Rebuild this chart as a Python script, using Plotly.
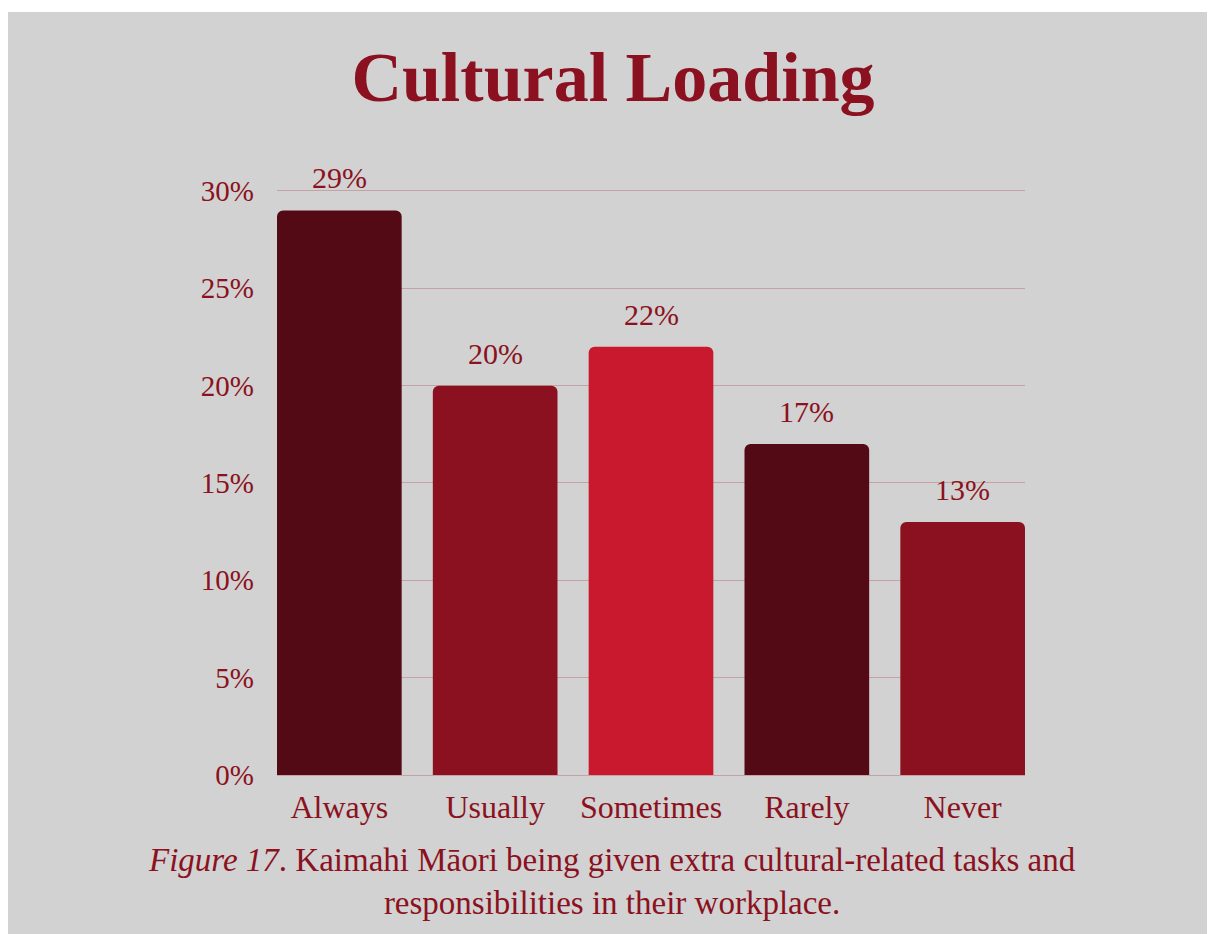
import plotly.graph_objects as go

categories = ["Always", "Usually", "Sometimes", "Rarely", "Never"]
values = [29, 20, 22, 17, 13]
bar_colors = ["#530a15", "#8b1120", "#c8192e", "#530a15", "#8b1120"]
tick_vals = [0, 5, 10, 15, 20, 25, 30]
tick_text = ["0%", "5%", "10%", "15%", "20%", "25%", "30%"]

TEXT = "#8b1120"
FONT = "Liberation Serif"
W, H = 1207, 926
YMAX = 30.1
L, R, B = 269, 190, 159
ph = 584 * YMAX / 30
T = H - B - ph
pw = W - L - R

fig = go.Figure()
fig.add_trace(go.Bar(
    x=categories, y=values, marker=dict(color=bar_colors, line=dict(width=0)),
    hoverinfo="skip", cliponaxis=False,
))

for c, v in zip(categories, values):
    fig.add_annotation(x=c, y=v, text=f"{v}%", showarrow=False, yanchor="bottom",
                       yshift=14, font=dict(family=FONT, size=30, color=TEXT))

# gray panel with thin white strip at top
fig.add_shape(type="rect", xref="paper", yref="paper",
              x0=-1, x1=1.5, y0=-0.5, y1=(H - B - 4) / ph,
              fillcolor="#d2d2d2", line=dict(width=0), layer="below")

fig.add_annotation(xref="paper", yref="paper", x=(604 - L) / pw, y=(H - B - 873) / ph,
                   text="<i>Figure 17</i>. Kaimahi Māori being given extra cultural-related tasks and<br>responsibilities in their workplace.",
                   showarrow=False, xanchor="center", yanchor="middle", align="center",
                   font=dict(family=FONT, size=33, color=TEXT))

fig.update_layout(
    width=W, height=H,
    margin=dict(l=L, r=R, t=T, b=B, autoexpand=False),
    paper_bgcolor="white", plot_bgcolor="rgba(0,0,0,0)",
    bargap=0.2, barcornerradius=6, showlegend=False,
    title=dict(text="<b>Cultural Loading</b>", x=605 / W, xanchor="center",
               y=1 - 68 / H, yanchor="middle", yref="container",
               font=dict(family=FONT, size=70, color=TEXT)),
    font=dict(family=FONT, color=TEXT),
)
fig.update_xaxes(range=[-0.4, 4.4], showgrid=False, showline=False, ticks="",
                 tickfont=dict(family=FONT, size=32, color=TEXT), ticklabelstandoff=10)
fig.update_yaxes(range=[0, YMAX], tickvals=tick_vals, ticktext=tick_text, showgrid=True,
                 gridcolor="#c6a2a7", gridwidth=1, zeroline=True, zerolinecolor="#c6a2a7",
                 zerolinewidth=1, showline=False, ticks="",
                 tickfont=dict(family=FONT, size=29, color=TEXT), ticklabelstandoff=22)

fig.write_html(
    "out.html",
    post_script="document.documentElement.style.overflow='hidden';document.body.style.overflow='hidden';",
)
